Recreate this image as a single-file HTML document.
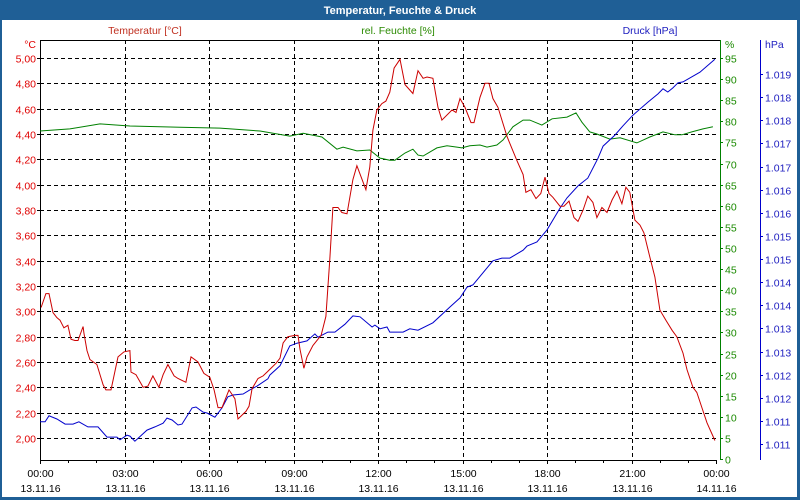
<!DOCTYPE html>
<html><head><meta charset="utf-8"><style>
html,body{margin:0;padding:0;background:#fff}
#wrap{position:relative;width:800px;height:500px;overflow:hidden;font-family:"Liberation Sans",sans-serif}
svg text{font-family:"Liberation Sans",sans-serif;font-size:10.5px}
</style></head><body>
<div id="wrap">
<svg id="chart" width="800" height="500" viewBox="0 0 800 500">
<rect x="0" y="0" width="800" height="500" fill="#1f5f96"/>
<rect x="2" y="20" width="795" height="477" fill="#fff"/>
<text x="400" y="14" text-anchor="middle" fill="#fff" font-weight="bold" style="font-size:11px">Temperatur, Feuchte &amp; Druck</text>
<text x="145" y="34" text-anchor="middle" fill="#c03020">Temperatur [°C]</text>
<text x="398" y="34" text-anchor="middle" fill="#2a8a00">rel. Feuchte [%]</text>
<text x="650" y="34" text-anchor="middle" fill="#2020c0">Druck [hPa]</text>
<g id="grid"></g><g id="axes"></g><g id="series"></g>
</svg>
</div>
<script>
const tempHours=[0.04,0.21,0.32,0.46,0.60,0.71,0.85,0.99,1.10,1.24,1.35,1.53,1.56,1.67,1.77,2.02,2.24,2.34,2.52,2.77,2.98,3.19,3.23,3.41,3.66,3.83,4.01,4.22,4.37,4.54,4.76,4.90,5.18,5.36,5.61,5.82,6.03,6.18,6.32,6.46,6.71,6.92,7.03,7.31,7.42,7.53,7.74,7.92,8.06,8.24,8.38,8.52,8.63,8.80,9.05,9.16,9.23,9.37,9.48,9.69,9.87,9.98,10.15,10.29,10.40,10.58,10.72,10.90,11.11,11.25,11.57,11.71,11.82,11.96,12.14,12.28,12.42,12.57,12.78,12.96,13.24,13.42,13.60,13.74,13.95,14.13,14.27,14.63,14.77,14.91,15.09,15.30,15.41,15.62,15.80,15.94,16.08,16.26,16.58,16.93,17.15,17.25,17.43,17.61,17.78,17.93,18.07,18.21,18.46,18.60,18.78,18.96,19.10,19.28,19.45,19.63,19.77,19.95,20.13,20.31,20.48,20.66,20.80,20.94,21.12,21.30,21.44,21.65,21.83,22.01,22.22,22.44,22.61,22.83,22.97,23.18,23.32,23.50,23.68,23.96];
const tempValues=[3.03,3.14,3.14,2.99,2.95,2.93,2.87,2.89,2.78,2.77,2.77,2.88,2.83,2.69,2.62,2.58,2.42,2.38,2.38,2.64,2.68,2.69,2.52,2.50,2.40,2.41,2.49,2.40,2.50,2.58,2.49,2.47,2.44,2.64,2.60,2.51,2.48,2.38,2.24,2.24,2.38,2.31,2.15,2.21,2.25,2.39,2.47,2.49,2.52,2.56,2.59,2.63,2.75,2.80,2.81,2.81,2.70,2.55,2.64,2.73,2.78,2.81,2.96,3.41,3.82,3.82,3.78,3.77,4.04,4.15,3.96,4.14,4.43,4.59,4.64,4.66,4.73,4.92,4.99,4.79,4.72,4.90,4.84,4.85,4.84,4.61,4.51,4.59,4.57,4.68,4.61,4.49,4.49,4.69,4.80,4.80,4.68,4.61,4.38,4.19,4.08,3.94,3.96,3.89,3.93,4.06,3.93,3.90,3.83,3.83,3.87,3.74,3.71,3.80,3.91,3.86,3.74,3.82,3.78,3.88,3.95,3.85,3.98,3.94,3.72,3.68,3.62,3.43,3.27,3.01,2.93,2.85,2.80,2.67,2.54,2.40,2.36,2.24,2.12,1.98];
const humHours=[0,1.06,2.13,3.19,4.97,6.39,7.81,8.87,9.34,10.01,10.54,10.76,11.25,11.71,12.07,12.42,12.60,12.96,13.24,13.42,13.60,14.09,14.45,14.80,14.98,15.26,15.62,15.87,16.22,16.44,16.79,17.15,17.39,17.82,18.18,18.71,19.03,19.24,19.52,19.77,20.23,20.59,21.19,21.65,22.12,22.54,22.79,23.14,23.54,23.89];
const humValues=[77.7,78.2,79.4,78.9,78.6,78.4,77.7,76.5,77.2,76.3,73.4,73.9,73.0,73.2,71.3,70.8,70.8,72.5,73.4,72.0,71.8,73.7,74.2,73.9,73.7,74.2,74.4,73.9,74.4,75.6,78.7,80.3,80.3,79.1,80.6,81.0,82.0,79.8,77.5,77.0,75.8,76.1,74.9,76.3,77.5,76.8,76.8,77.5,78.2,78.7];
const presHours=[0,0.18,0.32,0.60,0.89,1.17,1.38,1.70,2.06,2.38,2.73,2.84,3.09,3.19,3.37,3.80,4.08,4.37,4.51,4.69,4.90,5.04,5.40,5.54,5.79,5.93,6.21,6.46,6.67,6.85,7.21,7.45,7.70,8.09,8.16,8.52,8.87,9.12,9.48,9.76,9.87,10.22,10.47,10.83,11.11,11.36,11.79,11.89,12.07,12.32,12.42,12.89,13.13,13.42,13.95,14.55,14.91,15.16,15.37,16.08,16.40,16.68,17.15,17.29,17.64,18.00,18.46,18.71,19.10,19.45,19.81,19.99,20.41,20.70,21.05,21.58,21.94,22.12,22.29,22.47,22.65,22.83,23.43,23.96];
const presValues=[1010.98,1010.98,1011.11,1011.04,1010.93,1010.93,1010.98,1010.87,1010.87,1010.65,1010.65,1010.59,1010.69,1010.67,1010.56,1010.80,1010.87,1010.95,1011.06,1011.02,1010.91,1010.93,1011.28,1011.30,1011.19,1011.17,1011.08,1011.28,1011.52,1011.56,1011.58,1011.67,1011.75,1011.91,1011.99,1012.19,1012.62,1012.68,1012.73,1012.88,1012.81,1012.92,1012.92,1013.09,1013.27,1013.25,1013.03,1013.07,1012.99,1013.03,1012.92,1012.92,1012.99,1012.96,1013.12,1013.46,1013.66,1013.89,1013.94,1014.46,1014.52,1014.52,1014.69,1014.78,1014.87,1015.13,1015.60,1015.82,1016.08,1016.25,1016.68,1016.94,1017.18,1017.38,1017.61,1017.89,1018.07,1018.18,1018.11,1018.20,1018.31,1018.33,1018.54,1018.82];
const tempTicks=[2.0,2.2,2.4,2.6,2.8,3.0,3.2,3.4,3.6,3.8,4.0,4.2,4.4,4.6,4.8,5.0];
const humTicks=[0,5,10,15,20,25,30,35,40,45,50,55,60,65,70,75,80,85,90,95];
const presTicks=[1010.5,1011,1011.5,1012,1012.5,1013,1013.5,1014,1014.5,1015,1015.5,1016,1016.5,1017,1017.5,1018,1018.5];
const timeTicks=[0,3,6,9,12,15,18,21,24];
const timeLabels=["00:00","03:00","06:00","09:00","12:00","15:00","18:00","21:00","00:00"];
const dateLabels=["13.11.16","13.11.16","13.11.16","13.11.16","13.11.16","13.11.16","13.11.16","13.11.16","14.11.16"];

const X0=40,X1=716,YT=40,YB=460;
const xS=h=>X0+(X1-X0)*h/24;
const yT=v=>438-(v-2)*126.67;
const yH=v=>438+21.1-(v-0)*(438+21.1-58)/95;
const yP=v=>444-(v-1010.5)*46.25;
const NS="http://www.w3.org/2000/svg";
function mk(tag,attrs,parent,txt){const e=document.createElementNS(NS,tag);for(const k in attrs)e.setAttribute(k,attrs[k]);if(txt!==undefined)e.textContent=txt;parent.appendChild(e);return e;}
const grid=document.getElementById('grid'),axes=document.getElementById('axes'),series=document.getElementById('series');

tempTicks.forEach(v=>{const y=Math.round(yT(v))+0.5;
 const l=mk('line',{x1:X0,x2:X1,y1:y,y2:y,stroke:'#000','stroke-dasharray':'4,3'},grid);
 
 
 const t=mk('text',{x:36,y:y+4,'text-anchor':'end',fill:'#e00000'},axes,v.toFixed(2).replace('.',','));
 
 
 mk('line',{x1:X0-3,x2:X0,y1:y,y2:y,stroke:'#000'},axes);
});
timeTicks.forEach((h,i)=>{const x=Math.round(xS(h))+0.5;
 if(i>0&&i<timeTicks.length-1){const l=mk('line',{x1:x,x2:x,y1:YT,y2:YB,stroke:'#000','stroke-dasharray':'4,3'},grid);
 
 }
 const t=mk('text',{x:x,y:477,'text-anchor':'middle',fill:'#000'},axes,timeLabels[i]);
 
 
 const d=mk('text',{x:x,y:492,'text-anchor':'middle',fill:'#000'},axes,dateLabels[i]);
 
 
});
for(let h=0;h<=24;h++){const x=Math.round(xS(h))+0.5;mk('line',{x1:x,x2:x,y1:YB,y2:YB+(h%3?3:4),stroke:'#000'},axes);}
humTicks.forEach(v=>{const y=Math.round(yH(v))+0.5;
 mk('line',{x1:720,x2:723,y1:y,y2:y,stroke:'#008000'},axes);
 const t=mk('text',{x:725,y:y+4,fill:'#1a8a00'},axes,String(v));
 
 
});
presTicks.forEach(v=>{const y=Math.round(yP(v))+0.5;
 mk('line',{x1:760,x2:763,y1:y,y2:y,stroke:'#0000cc'},axes);
 const t=mk('text',{x:765,y:y+4,fill:'#2020c0'},axes,(Math.round(v)/1000).toFixed(3));
 
 
});
let a;
a=mk('text',{x:36,y:48,'text-anchor':'end',fill:'#e00000'},axes,'°C');
a=mk('text',{x:725,y:48,fill:'#1a8a00'},axes,'%');
a=mk('text',{x:765,y:48,fill:'#2020c0'},axes,'hPa');
mk('line',{x1:X0,x2:720,y1:YT+0.5,y2:YT+0.5,stroke:'#000'},axes);
a=mk('line',{x1:X0+0.5,x2:X0+0.5,y1:YT,y2:YB,stroke:'#000'},axes);
a=mk('line',{x1:X0,x2:X1,y1:YB+0.5,y2:YB+0.5,stroke:'#000'},axes);
a=mk('line',{x1:720.5,x2:720.5,y1:YT,y2:YB,stroke:'#008000'},axes);
a=mk('line',{x1:760.5,x2:760.5,y1:YT,y2:YB,stroke:'#0000cc'},axes);

function path(hs,vs,ys){return hs.map((h,i)=>(i?'L':'M')+xS(h).toFixed(1)+','+ys(vs[i]).toFixed(1)).join(' ');}
let p;
p=mk('path',{d:path(humHours,humValues,yH),fill:'none',stroke:'#008000','stroke-width':1},series);


p=mk('path',{d:path(presHours,presValues,yP),fill:'none',stroke:'#0000cc','stroke-width':1},series);


p=mk('path',{d:path(tempHours,tempValues,yT),fill:'none',stroke:'#cc0000','stroke-width':1},series);


</script>
</body></html>
